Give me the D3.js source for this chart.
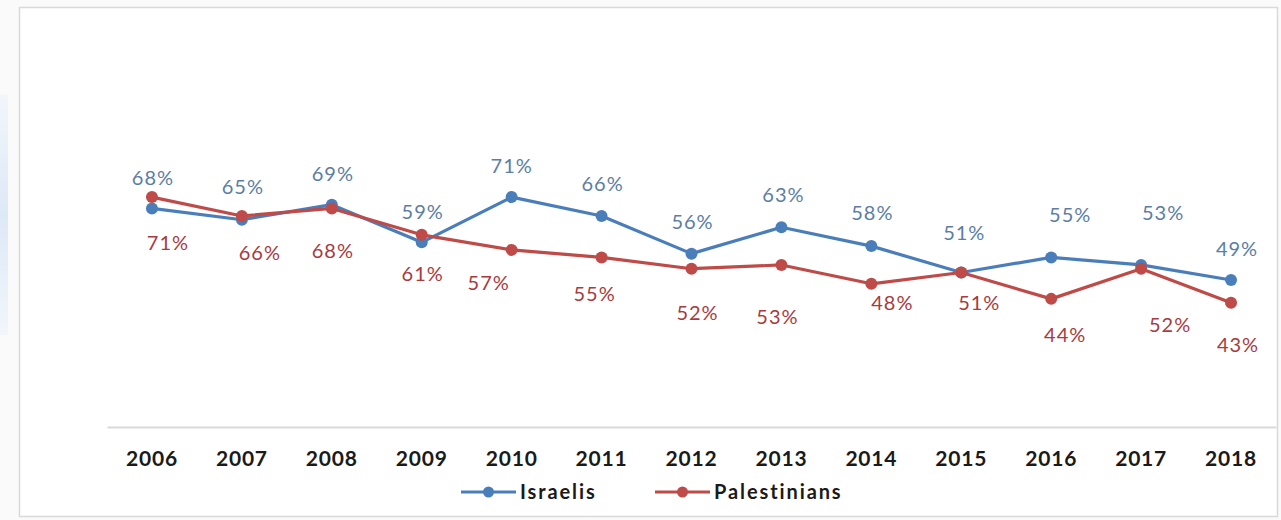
<!DOCTYPE html>
<html>
<head>
<meta charset="utf-8">
<script src="https://cdn.jsdelivr.net/npm/d3@7"></script>
<style>
	body { margin: 0; background: #fff; }
	svg { display: block; }
</style>
</head>
<body>
<svg id="chart" width="1281" height="520"></svg>
<script>
let years = ["2006", "2007", "2008", "2009", "2010", "2011", "2012", "2013", "2014", "2015", "2016", "2017", "2018"];
let israelis = [68, 65, 69, 59, 71, 66, 56, 63, 58, 51, 55, 53, 49];
let palestinians = [71, 66, 68, 61, 57, 55, 52, 53, 48, 51, 44, 52, 43];
let seriesNames = ["Israelis", "Palestinians"];

let width = 1281, height = 520;
let blue = "#4a7ebb", red = "#be4b48";
let blueText = "#5a7ea6", redText = "#a93a3e";

// label nudges (px) from the point, the original labels were dragged by hand
let israeliLabelDx = [1, 1, 1, 1, 0, 1, 1, 2, 1, 3, 19, 22, 6];
let israeliLabelDy = [-31, -33, -31, -31, -31, -32, -32, -32, -33, -40, -43, -52, -31];
let palestLabelDx = [16, 18, 1, 1, -23, -7, 6, -4, 21, 18, 14, 29, 7];
let palestLabelDy = [46, 37, 42, 39, 33, 36, 44, 52, 19, 30, 36, 56, 42];

let svg = d3.select("#chart");

// frame
svg.append("rect")
	.attr("width", width)
	.attr("height", height)
	.attr("fill", "#fafafa");

let grad = svg.append("defs").append("linearGradient")
	.attr("id", "strip")
	.attr("x1", 0).attr("x2", 0).attr("y1", 0).attr("y2", 1);
grad.append("stop").attr("offset", "0%").attr("stop-color", "#f1f6fb");
grad.append("stop").attr("offset", "50%").attr("stop-color", "#dde9f6");
grad.append("stop").attr("offset", "100%").attr("stop-color", "#f1f6fb");

svg.append("rect")
	.attr("x", 0)
	.attr("y", 95)
	.attr("width", 8)
	.attr("height", 240)
	.attr("fill", "url(#strip)");

svg.append("rect")
	.attr("x", 19.5)
	.attr("y", 7.5)
	.attr("width", 1258)
	.attr("height", 509)
	.attr("fill", "#fff")
	.attr("stroke", "#d9d9d9")
	.attr("stroke-width", 1.5);

let x = d3.scaleBand()
	.domain(years)
	.range([107, 1276]);

let y = d3.scaleLinear()
	.domain([10, 80])
	.range([427, 163.2]);

let cx = function(d) { return x(d) + x.bandwidth()/2; };

// x axis
let xAxis = svg.append("g")
	.attr("transform", "translate(0,427)")
	.call(d3.axisBottom(x).tickSize(0).tickSizeOuter(0).tickPadding(0));

xAxis.select(".domain")
	.attr("stroke", "#d9d9d9")
	.attr("stroke-width", 2);

xAxis.selectAll("text")
	.attr("y", 39)
	.attr("dy", 0)
	.attr("fill", "#1a1a1a")
	.style("font", "bold 21px Lato")
	.style("letter-spacing", "0.8px");

// lines
let series = [
	{ name: seriesNames[0], values: israelis, color: blue, text: blueText, dx: israeliLabelDx, dy: israeliLabelDy },
	{ name: seriesNames[1], values: palestinians, color: red, text: redText, dx: palestLabelDx, dy: palestLabelDy }
];

let line = d3.line()
	.x(function(d, i) { return cx(years[i]); })
	.y(function(d) { return y(d); });

series.forEach(function(s) {
	svg.append("path")
		.datum(s.values)
		.attr("d", line)
		.attr("fill", "none")
		.attr("stroke", s.color)
		.attr("stroke-width", 3.2)
		.attr("stroke-linejoin", "round");
});

series.forEach(function(s) {
	svg.append("g")
		.selectAll("circle")
		.data(s.values)
		.enter().append("circle")
		.attr("cx", function(d, i) { return cx(years[i]); })
		.attr("cy", function(d) { return y(d); })
		.attr("r", 6)
		.attr("fill", s.color);
});

// data labels
series.forEach(function(s) {
	svg.append("g")
		.selectAll("text")
		.data(s.values)
		.enter().append("text")
		.attr("x", function(d, i) { return cx(years[i]) + s.dx[i]; })
		.attr("y", function(d, i) { return y(d) + s.dy[i]; })
		.attr("dy", "0.36em")
		.attr("fill", s.text)
		.style("font", "20px Lato")
		.style("letter-spacing", "1px")
		.style("text-anchor", "middle")
		.text(function(d) { return d + "%"; });
});

// legend
let legend = svg.append("g");
let legendX = [461, 655];

series.forEach(function(s, i) {
	let g = legend.append("g").attr("transform", "translate(" + legendX[i] + ",492)");
	g.append("line")
		.attr("x1", 0).attr("x2", 55)
		.attr("stroke", s.color)
		.attr("stroke-width", 3);
	g.append("circle")
		.attr("cx", 27.5)
		.attr("r", 5.5)
		.attr("fill", s.color);
	g.append("text")
		.attr("x", 59)
		.attr("dy", "0.36em")
		.attr("fill", "#1a1a1a")
		.style("font", "bold 20px Lato")
		.style("letter-spacing", "1.9px")
		.text(s.name);
});
</script>
</body>
</html>
